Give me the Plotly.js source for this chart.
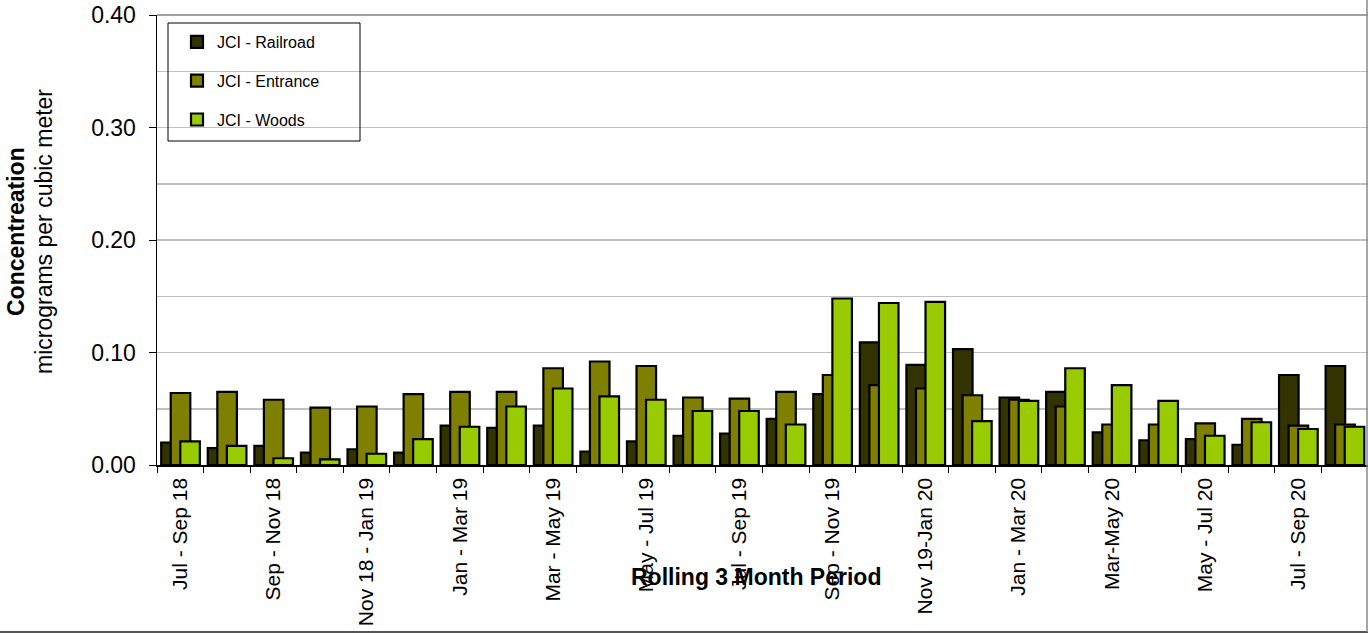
<!DOCTYPE html>
<html><head><meta charset="utf-8">
<script src="https://cdn.plot.ly/plotly-3.0.1.min.js"></script>
<style>html,body{margin:0;padding:0;background:#fff}#chart{width:1368px;height:633px}</style>
</head><body><div id="chart"></div>
<script>
const categories = ["Jul - Sep 18","Aug - Oct 18","Sep - Nov 18","Oct - Dec 18","Nov 18 - Jan 19","Dec 18 - Feb 19",
  "Jan - Mar 19","Feb - Apr 19","Mar - May 19","Apr - Jun 19","May - Jul 19","Jun - Aug 19","Jul - Sep 19",
  "Aug - Oct 19","Sep - Nov 19","Oct - Dec 19","Nov 19-Jan 20","Dec 19 - Feb 20","Jan - Mar 20","Feb - Apr 20",
  "Mar-May 20","Apr - Jun 20","May - Jul 20","Jun - Aug 20","Jul - Sep 20","Aug - Oct 20"];
const tickLabels = ["Jul - Sep 18","Sep - Nov 18","Nov 18 - Jan 19","Jan - Mar 19","Mar - May 19","May - Jul 19",
  "Jul - Sep 19","Sep - Nov 19","Nov 19-Jan 20","Jan - Mar 20","Mar-May 20","May - Jul 20","Jul - Sep 20"];
const railroad = [0.020,0.015,0.017,0.011,0.014,0.011,0.035,0.033,0.035,0.012,0.021,0.026,0.028,0.041,0.063,0.109,0.089,0.103,0.060,0.065,0.029,0.022,0.023,0.018,0.080,0.088];
const entrance = [0.064,0.065,0.058,0.051,0.052,0.063,0.065,0.065,0.086,0.092,0.088,0.060,0.059,0.065,0.080,0.071,0.068,0.062,0.058,0.052,0.036,0.036,0.037,0.041,0.035,0.036];
const woods    = [0.021,0.017,0.006,0.005,0.010,0.023,0.034,0.052,0.068,0.061,0.058,0.048,0.048,0.036,0.148,0.144,0.145,0.039,0.057,0.086,0.071,0.057,0.026,0.038,0.032,0.034];
const seriesNames = ["JCI - Railroad","JCI - Entrance","JCI - Woods"];
const seriesColors = ["#333300","#808000","#99CC00"];

const xIdx = categories.map((c, i) => i);
const tickIdx = tickLabels.map(t => categories.indexOf(t));
const FONT = "Liberation Sans, Arial, sans-serif";
const offsets = [-0.41, -0.205, 0.0];
const traces = [railroad, entrance, woods].map((vals, k) => ({
  type: "bar", name: seriesNames[k], x: xIdx, y: vals, text: categories.map(c => c),
  hoverinfo: "name+y", textposition: "none",
  width: 0.42, offset: offsets[k], legendgroup: "g" + k,
  marker: {color: seriesColors[k], line: {color: "#000", width: 2.2}}
}));

const W = 1368, H = 633, L = 157, R = 0, T = 15, B = 168;
const pw = W - L - R, ph = H - T - B;
const px = v => (v - L) / pw;
const py = v => (H - B - v) / ph;

const layout = {
  width: W, height: H,
  margin: {l: L, r: R, t: T, b: B, pad: 0},
  paper_bgcolor: "#fff", plot_bgcolor: "#fff",
  font: {family: FONT, color: "#000"},
  barmode: "overlay",
  showlegend: true,
  legend: {x: px(177), y: py(25), xanchor: "left", yanchor: "top",
    bgcolor: "rgba(0,0,0,0)", borderwidth: 0, font: {size: 16, family: FONT},
    tracegroupgap: 15, traceorder: "grouped"},
  xaxis: {range: [-0.5, 25.5], tickmode: "array", tickvals: tickIdx, ticktext: tickLabels,
    tickangle: -90, ticks: "", showline: true, linecolor: "#000", linewidth: 1.5,
    tickfont: {size: 21, family: FONT}, ticklabelstandoff: 3,
    showgrid: false, zeroline: false,
    minor: {tickmode: "linear", tick0: -0.5, dtick: 1, ticks: "outside", ticklen: 6, tickcolor: "#000", tickwidth: 1, showgrid: false}},
  yaxis: {range: [0, 0.4], tickmode: "array", tickvals: [0, 0.1, 0.2, 0.3, 0.4], tickformat: ".2f",
    ticks: "outside", ticklen: 7, tickcolor: "#000", tickwidth: 1,
    showline: true, linecolor: "#000", linewidth: 1.5,
    showgrid: true, gridcolor: "#c0c0c0", gridwidth: 1.5, zeroline: false,
    tickfont: {size: 23, family: FONT}, ticklabelstandoff: 8,
    minor: {tickmode: "linear", tick0: 0, dtick: 0.05, showgrid: true, gridcolor: "#c0c0c0", gridwidth: 1.5, ticks: ""}},
  annotations: [
    {text: "<b>Rolling 3 Month Period</b>", xref: "paper", yref: "paper", x: px(756), y: py(577),
      xanchor: "center", yanchor: "middle", showarrow: false, font: {size: 23, family: FONT}},
    {text: "<b>Concentreation</b>", xref: "paper", yref: "paper", x: px(16), y: py(232),
      xanchor: "center", yanchor: "middle", textangle: -90, showarrow: false, font: {size: 23, family: FONT}},
    {text: "micrograms per cubic meter", xref: "paper", yref: "paper", x: px(44), y: py(232),
      xanchor: "center", yanchor: "middle", textangle: -90, showarrow: false, font: {size: 23, family: FONT}}
  ],
  shapes: [
    {type: "rect", xref: "paper", yref: "paper", x0: px(168), x1: px(360), y0: py(141), y1: py(23),
      line: {color: "#000", width: 1}, fillcolor: "rgba(0,0,0,0)", layer: "above"},
    {type: "line", xref: "paper", yref: "paper", x0: 0, x1: 1, y0: 1, y1: 1, line: {color: "#808080", width: 1.5}},
    {type: "line", xref: "paper", yref: "paper", x0: px(0), x1: px(1368), y0: py(632), y1: py(632), line: {color: "#555", width: 2}},
    {type: "line", xref: "paper", yref: "paper", x0: px(1367), x1: px(1367), y0: py(0), y1: py(632), line: {color: "#888", width: 1.5}}
  ]
};
Plotly.newPlot("chart", traces, layout, {displayModeBar: false, staticPlot: true});
</script></body></html>
